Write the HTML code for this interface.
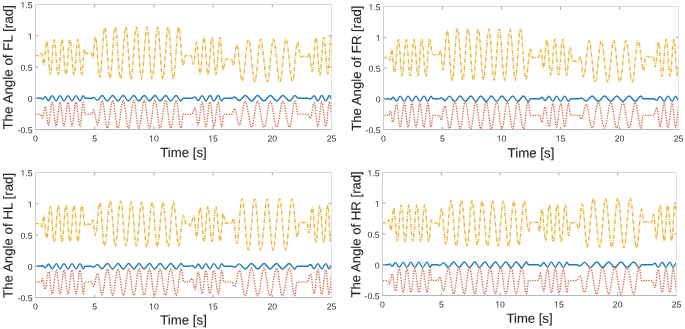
<!DOCTYPE html>
<html><head><meta charset="utf-8"><style>
html,body{margin:0;padding:0;background:#fff;}
body{width:685px;height:329px;overflow:hidden;}
svg{display:block;font-family:"Liberation Sans",sans-serif;filter:blur(0.35px);}
</style></head><body>
<svg width="685" height="329" viewBox="0 0 685 329">
<rect width="685" height="329" fill="#fff"/>
<clipPath id="cFL"><rect x="35.5" y="1.5" width="296.0" height="131.0"/></clipPath>
<g clip-path="url(#cFL)" fill="none"><path d="M34.50 98.25C34.50 98.25 34.50 98.25 34.50 98.25C35.41 98.25 36.09 98.25 37.00 98.25C37.73 98.25 38.27 98.25 39.00 98.25C39.66 98.25 40.14 98.25 40.80 98.25C41.43 98.25 41.90 99.04 42.52 99.04C43.54 99.04 44.29 96.59 45.30 96.59C46.42 96.59 47.26 100.69 48.38 100.69C49.78 100.69 50.82 95.62 52.23 95.62C53.65 95.62 54.72 100.88 56.15 100.88C57.56 100.88 58.61 95.62 60.02 95.62C61.48 95.62 62.57 100.88 64.03 100.88C65.45 100.88 66.50 95.62 67.93 95.62C69.38 95.62 70.47 100.88 71.93 100.88C73.35 100.88 74.40 95.62 75.83 95.62C77.39 95.62 78.56 100.88 80.12 100.88C81.23 100.88 82.05 95.62 83.15 95.62C83.88 95.62 84.43 98.25 85.16 98.25C85.89 98.25 86.44 98.25 87.17 98.25C87.91 98.25 88.45 98.25 89.19 98.25C89.55 98.25 89.83 98.25 90.19 98.25C90.67 98.25 91.02 98.25 91.50 98.25C92.28 98.25 92.87 97.42 93.65 97.42C95.04 97.42 96.08 100.34 97.47 100.34C99.18 100.34 100.45 95.56 102.15 95.56C104.05 95.56 105.47 101.03 107.38 101.03C109.27 101.03 110.68 95.48 112.58 95.48C114.50 95.48 115.93 101.03 117.85 101.03C119.79 101.03 121.24 95.47 123.17 95.47C125.06 95.47 126.47 101.03 128.35 101.03C130.33 101.03 131.82 95.47 133.80 95.47C135.60 95.47 136.95 101.03 138.75 101.03C140.79 101.03 142.31 95.47 144.35 95.47C146.16 95.47 147.51 101.03 149.32 101.03C151.40 101.03 152.95 95.47 155.02 95.47C156.86 95.47 158.22 101.03 160.05 101.03C162.09 101.03 163.61 95.47 165.65 95.47C167.50 95.47 168.88 101.03 170.73 101.03C172.69 101.03 174.16 95.47 176.12 95.47C177.86 95.47 179.16 101.03 180.90 101.03C181.80 101.03 182.47 98.25 183.37 98.25C184.15 98.25 184.73 98.25 185.51 98.25C186.29 98.25 186.88 98.25 187.66 98.25C188.24 98.25 188.68 98.25 189.27 98.25C190.24 98.25 190.97 98.25 191.95 98.25C193.06 98.25 193.89 96.87 195.00 96.87C196.09 96.87 196.91 100.58 198.00 100.58C199.54 100.58 200.69 95.62 202.22 95.62C203.54 95.62 204.51 100.93 205.83 100.93C207.37 100.93 208.53 95.57 210.07 95.57C211.48 95.57 212.52 100.93 213.93 100.93C215.49 100.93 216.66 95.57 218.22 95.57C219.42 95.57 220.31 100.93 221.50 100.93C222.40 100.93 223.07 98.25 223.96 98.25C224.68 98.25 225.22 98.25 225.94 98.25C226.65 98.25 227.19 98.25 227.91 98.25C228.62 98.25 229.16 98.25 229.88 98.25C230.56 98.25 231.07 98.25 231.75 98.25C232.75 98.25 233.50 97.04 234.50 97.04C236.24 97.04 237.54 100.51 239.27 100.51C241.45 100.51 243.07 95.55 245.25 95.55C247.62 95.55 249.38 100.98 251.75 100.98C253.84 100.98 255.39 95.52 257.48 95.52C259.88 95.52 261.67 100.98 264.08 100.98C266.37 100.98 268.08 95.52 270.38 95.52C272.67 95.52 274.38 100.98 276.68 100.98C278.92 100.98 280.60 95.52 282.85 95.52C285.26 95.52 287.06 100.98 289.47 100.98C291.51 100.98 293.02 95.55 295.05 95.55C296.19 95.55 297.04 98.25 298.17 98.25C298.99 98.25 299.59 98.25 300.40 98.25C301.22 98.25 301.82 98.25 302.63 98.25C303.45 98.25 304.05 98.25 304.87 98.25C305.39 98.25 305.79 98.25 306.32 98.25C306.97 98.25 307.45 98.25 308.10 98.25C308.91 98.25 309.51 99.06 310.32 99.06C311.72 99.06 312.76 95.82 314.15 95.82C315.52 95.82 316.53 100.89 317.90 100.89C319.28 100.89 320.32 95.57 321.70 95.57C323.24 95.57 324.39 100.89 325.93 100.89C327.19 100.89 328.13 95.57 329.40 95.57C330.75 95.57 331.75 100.93 333.10 100.93" stroke="#1F78BA" stroke-width="1.4"/><path d="M34.50 114.19C34.50 114.19 34.50 114.19 34.50 114.19C35.41 114.19 36.09 114.19 37.00 114.19C37.73 114.19 38.27 114.19 39.00 114.19C39.66 114.19 40.14 114.19 40.80 114.19C41.43 114.19 41.90 117.73 42.52 117.73C43.54 117.73 44.29 106.75 45.30 106.75C46.42 106.75 47.26 125.13 48.38 125.13C49.78 125.13 50.82 102.37 52.23 102.37C53.65 102.37 54.72 126.00 56.15 126.00C57.56 126.00 58.61 102.37 60.02 102.37C61.48 102.37 62.57 126.00 64.03 126.00C65.45 126.00 66.50 102.37 67.93 102.37C69.38 102.37 70.47 126.00 71.93 126.00C73.35 126.00 74.40 102.37 75.83 102.37C77.39 102.37 78.56 126.00 80.12 126.00C81.23 126.00 82.05 102.37 83.15 102.37C83.88 102.37 84.43 114.19 85.16 114.19C85.89 114.19 86.44 114.19 87.17 114.19C87.91 114.19 88.45 114.19 89.19 114.19C89.55 114.19 89.83 114.19 90.19 114.19C90.67 114.19 91.02 114.19 91.50 114.19C92.28 114.19 92.87 110.04 93.65 110.04C95.04 110.04 96.08 124.61 97.47 124.61C99.18 124.61 100.45 100.79 102.15 100.79C104.05 100.79 105.47 128.02 107.38 128.02C109.27 128.02 110.68 100.40 112.58 100.40C114.50 100.40 115.93 128.02 117.85 128.02C119.79 128.02 121.24 100.35 123.17 100.35C125.06 100.35 126.47 128.02 128.35 128.02C130.33 128.02 131.82 100.35 133.80 100.35C135.60 100.35 136.95 128.02 138.75 128.02C140.79 128.02 142.31 100.35 144.35 100.35C146.16 100.35 147.51 128.02 149.32 128.02C151.40 128.02 152.95 100.35 155.02 100.35C156.86 100.35 158.22 128.02 160.05 128.02C162.09 128.02 163.61 100.35 165.65 100.35C167.50 100.35 168.88 128.02 170.73 128.02C172.69 128.02 174.16 100.35 176.12 100.35C177.86 100.35 179.16 128.02 180.90 128.02C181.80 128.02 182.47 114.19 183.37 114.19C184.15 114.19 184.73 114.19 185.51 114.19C186.29 114.19 186.88 114.19 187.66 114.19C188.24 114.19 188.68 114.19 189.27 114.19C190.24 114.19 190.97 114.19 191.95 114.19C193.06 114.19 193.89 107.83 195.00 107.83C196.09 107.83 196.91 124.89 198.00 124.89C199.54 124.89 200.69 102.12 202.22 102.12C203.54 102.12 204.51 126.48 205.83 126.48C207.37 126.48 208.53 101.90 210.07 101.90C211.48 101.90 212.52 126.48 213.93 126.48C215.49 126.48 216.66 101.90 218.22 101.90C219.42 101.90 220.31 126.48 221.50 126.48C222.40 126.48 223.07 114.19 223.96 114.19C224.68 114.19 225.22 114.19 225.94 114.19C226.65 114.19 227.19 114.19 227.91 114.19C228.62 114.19 229.16 114.19 229.88 114.19C230.56 114.19 231.07 114.19 231.75 114.19C232.75 114.19 233.50 108.42 234.50 108.42C236.24 108.42 237.54 124.94 239.27 124.94C241.45 124.94 243.07 101.37 245.25 101.37C247.62 101.37 249.38 127.16 251.75 127.16C253.84 127.16 255.39 101.21 257.48 101.21C259.88 101.21 261.67 127.16 264.08 127.16C266.37 127.16 268.08 101.21 270.38 101.21C272.67 101.21 274.38 127.16 276.68 127.16C278.92 127.16 280.60 101.21 282.85 101.21C285.26 101.21 287.06 127.16 289.47 127.16C291.51 127.16 293.02 101.37 295.05 101.37C296.19 101.37 297.04 114.19 298.17 114.19C298.99 114.19 299.59 114.19 300.40 114.19C301.22 114.19 301.82 114.19 302.63 114.19C303.45 114.19 304.05 114.19 304.87 114.19C305.39 114.19 305.79 114.19 306.32 114.19C306.97 114.19 307.45 114.19 308.10 114.19C308.91 114.19 309.51 117.94 310.32 117.94C311.72 117.94 312.76 102.98 314.15 102.98C315.52 102.98 316.53 126.34 317.90 126.34C319.28 126.34 320.32 101.84 321.70 101.84C323.24 101.84 324.39 126.34 325.93 126.34C327.19 126.34 328.13 101.84 329.40 101.84C330.75 101.84 331.75 126.54 333.10 126.54" stroke="#D2704F" stroke-width="1.55" stroke-dasharray="0.01 2.55" stroke-linecap="round"/><path d="M34.50 55.75C34.86 55.75 35.14 55.75 35.50 55.75C36.41 55.75 37.09 55.44 38.00 55.44C38.73 55.44 39.27 56.06 40.00 56.06C40.66 56.06 41.14 53.16 41.80 53.16C42.53 53.16 43.07 64.32 43.80 64.32C44.93 64.32 45.77 41.35 46.90 41.35C48.10 41.35 49.00 74.82 50.20 74.82C51.66 74.82 52.74 39.38 54.20 39.38C55.62 39.38 56.68 74.82 58.10 74.82C59.52 74.82 60.58 39.38 62.00 39.38C63.46 39.38 64.54 74.82 66.00 74.82C67.42 74.82 68.48 39.38 69.90 39.38C71.36 39.38 72.44 74.82 73.90 74.82C75.32 74.82 76.38 39.38 77.80 39.38C79.26 39.38 80.34 74.82 81.80 74.82C82.78 74.82 83.52 49.23 84.50 49.23C85.23 49.23 85.77 53.88 86.50 53.88C87.23 53.88 87.77 52.62 88.50 52.62C89.23 52.62 89.77 53.56 90.50 53.56C90.86 53.56 91.14 53.25 91.50 53.25C91.97 53.25 92.33 57.80 92.80 57.80C93.75 57.80 94.45 36.80 95.40 36.80C97.00 36.80 98.20 77.48 99.80 77.48C101.58 77.48 102.92 27.61 104.70 27.61C106.63 27.61 108.07 78.47 110.00 78.47C111.89 78.47 113.31 26.95 115.20 26.95C117.13 26.95 118.57 78.80 120.50 78.80C122.43 78.80 123.87 26.95 125.80 26.95C127.69 26.95 129.11 78.80 131.00 78.80C132.97 78.80 134.43 26.95 136.40 26.95C138.22 26.95 139.58 78.80 141.40 78.80C143.44 78.80 144.96 26.95 147.00 26.95C148.82 26.95 150.18 78.80 152.00 78.80C154.08 78.80 155.62 26.95 157.70 26.95C159.52 26.95 160.88 78.80 162.70 78.80C164.74 78.80 166.26 26.95 168.30 26.95C170.12 26.95 171.48 78.80 173.30 78.80C175.23 78.80 176.67 26.95 178.60 26.95C180.28 26.95 181.52 65.34 183.20 65.34C184.04 65.34 184.66 55.12 185.50 55.12C186.23 55.12 186.77 56.06 187.50 56.06C188.23 56.06 188.77 55.44 189.50 55.44C190.05 55.44 190.45 55.75 191.00 55.75C191.91 55.75 192.59 64.19 193.50 64.19C194.63 64.19 195.47 41.88 196.60 41.88C197.80 41.88 198.70 74.03 199.90 74.03C201.47 74.03 202.63 37.28 204.20 37.28C205.51 37.28 206.49 74.69 207.80 74.69C209.37 74.69 210.53 37.28 212.10 37.28C213.48 37.28 214.52 74.69 215.90 74.69C217.39 74.69 218.51 37.28 220.00 37.28C221.09 37.28 221.91 70.09 223.00 70.09C223.91 70.09 224.59 59.50 225.50 59.50C226.23 59.50 226.77 58.88 227.50 58.88C228.23 58.88 228.77 59.81 229.50 59.81C230.23 59.81 230.77 59.19 231.50 59.19C232.19 59.19 232.71 65.48 233.40 65.48C234.60 65.48 235.50 44.48 236.70 44.48C238.70 44.48 240.20 81.23 242.20 81.23C244.46 81.23 246.14 39.23 248.40 39.23C250.73 39.23 252.47 81.88 254.80 81.88C256.91 81.88 258.49 39.23 260.60 39.23C263.04 39.23 264.86 81.88 267.30 81.88C269.56 81.88 271.24 39.23 273.50 39.23C275.79 39.23 277.51 81.88 279.80 81.88C282.06 81.88 283.74 39.23 286.00 39.23C288.33 39.23 290.07 81.23 292.40 81.23C294.33 81.23 295.77 41.85 297.70 41.85C298.72 41.85 299.48 57.00 300.50 57.00C301.23 57.00 301.77 56.06 302.50 56.06C303.23 56.06 303.77 57.00 304.50 57.00C305.23 57.00 305.77 56.38 306.50 56.38C306.97 56.38 307.33 56.69 307.80 56.69C308.38 56.69 308.82 53.08 309.40 53.08C310.35 53.08 311.05 71.45 312.00 71.45C313.49 71.45 314.61 37.33 316.10 37.33C317.45 37.33 318.45 75.39 319.80 75.39C321.22 75.39 322.28 37.33 323.70 37.33C325.19 37.33 326.31 74.08 327.80 74.08C329.04 74.08 329.96 36.02 331.20 36.02C332.58 36.02 333.62 74.08 335.00 74.08" stroke="#EBB73A" stroke-width="1.4" stroke-dasharray="4.2 1.2 0.8 1.2"/></g>
<g stroke-width="1" fill="none"><path d="M35.50 4.00V130.00" stroke="#cfcfcf"/><path d="M35.50 4.50H331.50" stroke="#d8d8d8"/><path d="M331.50 4.00V130.00" stroke="#e2e2e2"/><path d="M35.00 129.50H332.00" stroke="#b8b8b8"/><path d="M94.70 4.5v3M94.70 129.5v-3M153.90 4.5v3M153.90 129.5v-3M213.10 4.5v3M213.10 129.5v-3M272.30 4.5v3M272.30 129.5v-3M35.5 35.75h3M331.5 35.75h-3M35.5 67.00h3M331.5 67.00h-3M35.5 98.25h3M331.5 98.25h-3" stroke="#a8a8a8"/></g>
<g font-size="8.7" fill="#2e2e2e" stroke="#2e2e2e" stroke-width="0.0"><text transform="translate(35.50 141.40) rotate(0.05)" text-anchor="middle">0</text><text transform="translate(94.70 141.40) rotate(0.05)" text-anchor="middle">5</text><text transform="translate(153.90 141.40) rotate(0.05)" text-anchor="middle">10</text><text transform="translate(213.10 141.40) rotate(0.05)" text-anchor="middle">15</text><text transform="translate(272.30 141.40) rotate(0.05)" text-anchor="middle">20</text><text transform="translate(331.50 141.40) rotate(0.05)" text-anchor="middle">25</text><text transform="translate(32.60 8.20) rotate(0.05)" text-anchor="end">1.5</text><text transform="translate(32.60 39.45) rotate(0.05)" text-anchor="end">1</text><text transform="translate(32.60 70.70) rotate(0.05)" text-anchor="end">0.5</text><text transform="translate(32.60 101.95) rotate(0.05)" text-anchor="end">0</text><text transform="translate(32.60 133.20) rotate(0.05)" text-anchor="end">-0.5</text></g><g fill="#fff"><rect x="148.56" y="140.15" width="2.66" height="2.00"/><rect x="152.05" y="140.15" width="1.73" height="2.00"/><rect x="207.76" y="140.15" width="2.66" height="2.00"/><rect x="211.25" y="140.15" width="1.73" height="2.00"/><rect x="20.01" y="6.95" width="2.66" height="2.00"/><rect x="23.49" y="6.95" width="1.73" height="2.00"/><rect x="27.26" y="38.20" width="2.66" height="2.00"/><rect x="30.75" y="38.20" width="1.73" height="2.00"/></g>
<text transform="translate(183.50 157.10) rotate(0.05)" font-size="13.2" fill="#262626" stroke="#262626" stroke-width="0.12" text-anchor="middle">Time [s]</text>
<text transform="translate(12.60 67.35) rotate(-89.95)" font-size="13.38" fill="#262626" stroke="#262626" stroke-width="0.12" text-anchor="middle">The Angle of FL [rad]</text>
<clipPath id="cFR"><rect x="383.5" y="3.5" width="295.0" height="129.0"/></clipPath>
<g clip-path="url(#cFR)" fill="none"><path d="M382.50 98.75C382.50 98.75 382.50 98.75 382.50 98.75C383.41 98.75 384.09 98.75 385.00 98.75C385.91 98.75 386.59 98.75 387.50 98.75C387.97 98.75 388.33 98.75 388.80 98.75C389.47 98.75 389.98 99.64 390.65 99.64C391.41 99.64 391.97 97.21 392.72 97.21C394.14 97.21 395.19 101.08 396.60 101.08C397.85 101.08 398.78 96.15 400.02 96.15C401.62 96.15 402.81 101.35 404.40 101.35C405.75 101.35 406.75 96.15 408.10 96.15C409.52 96.15 410.58 101.35 412.00 101.35C413.48 101.35 414.59 96.15 416.07 96.15C417.40 96.15 418.40 101.35 419.73 101.35C421.26 101.35 422.41 96.15 423.95 96.15C425.35 96.15 426.40 101.35 427.80 101.35C429.00 101.35 429.90 96.15 431.10 96.15C431.78 96.15 432.30 98.75 432.98 98.75C433.74 98.75 434.31 98.75 435.07 98.75C435.83 98.75 436.40 98.75 437.16 98.75C437.92 98.75 438.49 98.75 439.25 98.75C440.01 98.75 440.57 97.79 441.32 97.79C442.64 97.79 443.61 100.65 444.92 100.65C446.60 100.65 447.85 96.11 449.53 96.11C451.46 96.11 452.89 101.48 454.82 101.48C456.78 101.48 458.24 96.02 460.20 96.02C462.04 96.02 463.41 101.48 465.25 101.48C467.27 101.48 468.78 96.02 470.80 96.02C472.62 96.02 473.98 101.48 475.80 101.48C477.59 101.48 478.93 96.02 480.72 96.02C482.77 96.02 484.30 101.48 486.35 101.48C488.20 101.48 489.58 96.02 491.43 96.02C493.33 96.02 494.75 101.48 496.65 101.48C498.57 101.48 500.00 96.02 501.93 96.02C503.89 96.02 505.36 101.48 507.33 101.48C509.29 101.48 510.76 96.02 512.72 96.02C514.51 96.02 515.84 101.48 517.62 101.48C519.77 101.48 521.38 96.02 523.52 96.02C525.19 96.02 526.43 101.48 528.10 101.48C529.00 101.48 529.68 98.75 530.58 98.75C531.37 98.75 531.96 98.75 532.74 98.75C533.53 98.75 534.11 98.75 534.90 98.75C535.69 98.75 536.27 98.75 537.06 98.75C538.00 98.75 538.71 98.75 539.65 98.75C540.47 98.75 541.08 97.19 541.90 97.19C543.04 97.19 543.89 100.61 545.02 100.61C546.45 100.61 547.50 96.22 548.92 96.22C550.37 96.22 551.45 101.34 552.90 101.34C554.22 101.34 555.20 96.16 556.52 96.16C558.04 96.16 559.16 101.34 560.68 101.34C562.16 101.34 563.27 96.16 564.75 96.16C566.06 96.16 567.04 101.34 568.35 101.34C569.25 101.34 569.92 98.75 570.82 98.75C571.57 98.75 572.13 98.75 572.88 98.75C573.63 98.75 574.19 98.75 574.93 98.75C575.68 98.75 576.24 98.75 576.99 98.75C577.74 98.75 578.30 98.75 579.05 98.75C579.84 98.75 580.43 97.95 581.22 97.95C583.06 97.95 584.44 101.07 586.28 101.07C588.38 101.07 589.95 96.07 592.05 96.07C594.32 96.07 596.01 101.43 598.27 101.43C600.54 101.43 602.23 96.07 604.50 96.07C606.78 96.07 608.47 101.43 610.75 101.43C612.94 101.43 614.56 96.07 616.75 96.07C618.99 96.07 620.66 101.43 622.90 101.43C625.18 101.43 626.87 96.07 629.15 96.07C631.41 96.07 633.09 101.43 635.35 101.43C637.37 101.43 638.88 96.07 640.90 96.07C641.65 96.07 642.22 98.75 642.97 98.75C643.76 98.75 644.36 98.75 645.15 98.75C645.94 98.75 646.54 98.75 647.33 98.75C648.12 98.75 648.72 98.75 649.51 98.75C650.22 98.75 650.76 98.75 651.47 98.75C652.26 98.75 652.86 98.75 653.65 98.75C654.84 98.75 655.73 100.37 656.92 100.37C658.08 100.37 658.94 96.33 660.10 96.33C661.59 96.33 662.71 101.39 664.20 101.39C665.60 101.39 666.65 96.11 668.05 96.11C669.54 96.11 670.66 101.39 672.15 101.39C673.42 101.39 674.38 96.11 675.65 96.11C676.94 96.11 677.91 101.39 679.20 101.39" stroke="#1F78BA" stroke-width="1.4"/><path d="M382.50 115.23C382.50 115.23 382.50 115.23 382.50 115.23C383.41 115.23 384.09 115.23 385.00 115.23C385.91 115.23 386.59 115.23 387.50 115.23C387.97 115.23 388.33 115.23 388.80 115.23C389.47 115.23 389.98 111.21 390.65 111.21C391.41 111.21 391.97 122.20 392.72 122.20C394.14 122.20 395.19 104.70 396.60 104.70C397.85 104.70 398.78 126.98 400.02 126.98C401.62 126.98 402.81 103.48 404.40 103.48C405.75 103.48 406.75 126.98 408.10 126.98C409.52 126.98 410.58 103.48 412.00 103.48C413.48 103.48 414.59 126.98 416.07 126.98C417.40 126.98 418.40 103.48 419.73 103.48C421.26 103.48 422.41 126.98 423.95 126.98C425.35 126.98 426.40 103.48 427.80 103.48C429.00 103.48 429.90 126.98 431.10 126.98C431.78 126.98 432.30 115.23 432.98 115.23C433.74 115.23 434.31 115.23 435.07 115.23C435.83 115.23 436.40 115.23 437.16 115.23C437.92 115.23 438.49 115.23 439.25 115.23C440.01 115.23 440.57 119.99 441.32 119.99C442.64 119.99 443.61 105.79 444.92 105.79C446.60 105.79 447.85 128.37 449.53 128.37C451.46 128.37 452.89 101.64 454.82 101.64C456.78 101.64 458.24 128.82 460.20 128.82C462.04 128.82 463.41 101.64 465.25 101.64C467.27 101.64 468.78 128.82 470.80 128.82C472.62 128.82 473.98 101.64 475.80 101.64C477.59 101.64 478.93 128.82 480.72 128.82C482.77 128.82 484.30 101.64 486.35 101.64C488.20 101.64 489.58 128.82 491.43 128.82C493.33 128.82 494.75 101.64 496.65 101.64C498.57 101.64 500.00 128.82 501.93 128.82C503.89 128.82 505.36 101.64 507.33 101.64C509.29 101.64 510.76 128.82 512.72 128.82C514.51 128.82 515.84 101.64 517.62 101.64C519.77 101.64 521.38 128.82 523.52 128.82C525.19 128.82 526.43 101.64 528.10 101.64C529.00 101.64 529.68 115.23 530.58 115.23C531.37 115.23 531.96 115.23 532.74 115.23C533.53 115.23 534.11 115.23 534.90 115.23C535.69 115.23 536.27 115.23 537.06 115.23C538.00 115.23 538.71 115.23 539.65 115.23C540.47 115.23 541.08 122.25 541.90 122.25C543.04 122.25 543.89 106.88 545.02 106.88C546.45 106.88 547.50 126.63 548.92 126.63C550.37 126.63 551.45 103.57 552.90 103.57C554.22 103.57 555.20 126.89 556.52 126.89C558.04 126.89 559.16 103.57 560.68 103.57C562.16 103.57 563.27 126.89 564.75 126.89C566.06 126.89 567.04 103.57 568.35 103.57C569.25 103.57 569.92 115.23 570.82 115.23C571.57 115.23 572.13 115.23 572.88 115.23C573.63 115.23 574.19 115.23 574.93 115.23C575.68 115.23 576.24 115.23 576.99 115.23C577.74 115.23 578.30 115.23 579.05 115.23C579.84 115.23 580.43 119.05 581.22 119.05C583.06 119.05 584.44 104.25 586.28 104.25C588.38 104.25 589.95 127.95 592.05 127.95C594.32 127.95 596.01 102.51 598.27 102.51C600.54 102.51 602.23 127.95 604.50 127.95C606.78 127.95 608.47 102.51 610.75 102.51C612.94 102.51 614.56 127.95 616.75 127.95C618.99 127.95 620.66 102.51 622.90 102.51C625.18 102.51 626.87 127.95 629.15 127.95C631.41 127.95 633.09 102.51 635.35 102.51C637.37 102.51 638.88 127.95 640.90 127.95C641.65 127.95 642.22 115.23 642.97 115.23C643.76 115.23 644.36 115.23 645.15 115.23C645.94 115.23 646.54 115.23 647.33 115.23C648.12 115.23 648.72 115.23 649.51 115.23C650.22 115.23 650.76 115.23 651.47 115.23C652.26 115.23 652.86 115.23 653.65 115.23C654.84 115.23 655.73 107.75 656.92 107.75C658.08 107.75 658.94 126.38 660.10 126.38C661.59 126.38 662.71 103.08 664.20 103.08C665.60 103.08 666.65 127.38 668.05 127.38C669.54 127.38 670.66 103.08 672.15 103.08C673.42 103.08 674.38 127.38 675.65 127.38C676.94 127.38 677.91 103.08 679.20 103.08" stroke="#D2704F" stroke-width="1.55" stroke-dasharray="0.01 2.55" stroke-linecap="round"/><path d="M382.50 57.54C382.86 57.54 383.14 57.54 383.50 57.54C384.41 57.54 385.09 57.24 386.00 57.24C386.91 57.24 387.59 57.85 388.50 57.85C388.97 57.85 389.33 60.50 389.80 60.50C390.53 60.50 391.07 49.20 391.80 49.20C392.75 49.20 393.45 72.45 394.40 72.45C395.89 72.45 397.01 39.52 398.50 39.52C399.77 39.52 400.73 75.68 402.00 75.68C403.60 75.68 404.80 39.52 406.40 39.52C407.71 39.52 408.69 75.68 410.00 75.68C411.46 75.68 412.54 39.52 414.00 39.52C415.46 39.52 416.54 75.68 418.00 75.68C419.35 75.68 420.35 39.52 421.70 39.52C423.23 39.52 424.37 76.33 425.90 76.33C427.21 76.33 428.19 39.52 429.50 39.52C430.67 39.52 431.53 54.37 432.70 54.37C433.36 54.37 433.84 55.09 434.50 55.09C435.23 55.09 435.77 54.47 436.50 54.47C437.23 54.47 437.77 55.39 438.50 55.39C439.23 55.39 439.77 50.49 440.50 50.49C441.41 50.49 442.09 69.86 443.00 69.86C444.53 69.86 445.67 30.47 447.20 30.47C448.98 30.47 450.32 80.19 452.10 80.19C454.07 80.19 455.53 28.53 457.50 28.53C459.43 28.53 460.87 80.19 462.80 80.19C464.66 80.19 466.04 28.53 467.90 28.53C469.90 28.53 471.40 80.19 473.40 80.19C475.18 80.19 476.52 29.18 478.30 29.18C480.16 29.18 481.54 79.55 483.40 79.55C485.44 79.55 486.96 29.18 489.00 29.18C490.82 29.18 492.18 80.19 494.00 80.19C495.93 80.19 497.37 29.18 499.30 29.18C501.23 29.18 502.67 80.19 504.60 80.19C506.57 80.19 508.03 29.18 510.00 29.18C511.93 29.18 513.37 80.19 515.30 80.19C517.12 80.19 518.48 29.18 520.30 29.18C522.38 29.18 523.92 79.55 526.00 79.55C527.53 79.55 528.67 49.20 530.20 49.20C531.04 49.20 531.66 57.85 532.50 57.85C533.23 57.85 533.77 57.24 534.50 57.24C535.23 57.24 535.77 57.85 536.50 57.85C537.23 57.85 537.77 57.54 538.50 57.54C539.37 57.54 540.03 49.70 540.90 49.70C541.81 49.70 542.49 68.11 543.40 68.11C544.67 68.11 545.63 40.02 546.90 40.02C548.36 40.02 549.44 75.21 550.90 75.21C552.32 75.21 553.38 39.05 554.80 39.05C556.15 39.05 557.15 75.21 558.50 75.21C560.03 75.21 561.17 39.05 562.70 39.05C564.12 39.05 565.18 75.21 566.60 75.21C567.87 75.21 568.83 47.12 570.10 47.12C570.97 47.12 571.63 61.23 572.50 61.23C573.23 61.23 573.77 60.93 574.50 60.93C575.23 60.93 575.77 61.54 576.50 61.54C577.23 61.54 577.77 61.23 578.50 61.23C579.23 61.23 579.77 56.18 580.50 56.18C581.56 56.18 582.34 76.84 583.40 76.84C585.51 76.84 587.09 40.68 589.20 40.68C591.35 40.68 592.95 82.01 595.10 82.01C597.39 82.01 599.11 40.68 601.40 40.68C603.66 40.68 605.34 82.01 607.60 82.01C609.86 82.01 611.54 40.68 613.80 40.68C615.99 40.68 617.61 82.01 619.80 82.01C622.06 82.01 623.74 40.68 626.00 40.68C628.26 40.68 629.94 82.01 632.20 82.01C634.39 82.01 636.01 40.68 638.20 40.68C640.17 40.68 641.63 70.71 643.60 70.71C644.29 70.71 644.81 56.93 645.50 56.93C646.23 56.93 646.77 56.32 647.50 56.32C648.23 56.32 648.77 57.24 649.50 57.24C650.23 57.24 650.77 56.62 651.50 56.62C652.16 56.62 652.64 56.93 653.30 56.93C654.03 56.93 654.57 66.62 655.30 66.62C656.50 66.62 657.40 42.08 658.60 42.08C659.84 42.08 660.76 76.30 662.00 76.30C663.53 76.30 664.67 39.17 666.20 39.17C667.58 39.17 668.62 76.30 670.00 76.30C671.46 76.30 672.54 39.17 674.00 39.17C675.24 39.17 676.16 76.30 677.40 76.30C678.71 76.30 679.69 39.49 681.00 39.49" stroke="#EBB73A" stroke-width="1.4" stroke-dasharray="4.2 1.2 0.8 1.2"/></g>
<g stroke-width="1" fill="none"><path d="M383.50 6.00V130.00" stroke="#cfcfcf"/><path d="M383.50 6.50H678.50" stroke="#d8d8d8"/><path d="M678.50 6.00V130.00" stroke="#e2e2e2"/><path d="M383.00 129.50H679.00" stroke="#b8b8b8"/><path d="M442.50 6.5v3M442.50 129.5v-3M501.50 6.5v3M501.50 129.5v-3M560.50 6.5v3M560.50 129.5v-3M619.50 6.5v3M619.50 129.5v-3M383.5 37.25h3M678.5 37.25h-3M383.5 68.00h3M678.5 68.00h-3M383.5 98.75h3M678.5 98.75h-3" stroke="#a8a8a8"/></g>
<g font-size="8.7" fill="#2e2e2e" stroke="#2e2e2e" stroke-width="0.0"><text transform="translate(383.50 141.40) rotate(0.05)" text-anchor="middle">0</text><text transform="translate(442.50 141.40) rotate(0.05)" text-anchor="middle">5</text><text transform="translate(501.50 141.40) rotate(0.05)" text-anchor="middle">10</text><text transform="translate(560.50 141.40) rotate(0.05)" text-anchor="middle">15</text><text transform="translate(619.50 141.40) rotate(0.05)" text-anchor="middle">20</text><text transform="translate(678.50 141.40) rotate(0.05)" text-anchor="middle">25</text><text transform="translate(380.60 10.20) rotate(0.05)" text-anchor="end">1.5</text><text transform="translate(380.60 40.95) rotate(0.05)" text-anchor="end">1</text><text transform="translate(380.60 71.70) rotate(0.05)" text-anchor="end">0.5</text><text transform="translate(380.60 102.45) rotate(0.05)" text-anchor="end">0</text><text transform="translate(380.60 133.20) rotate(0.05)" text-anchor="end">-0.5</text></g><g fill="#fff"><rect x="496.16" y="140.15" width="2.66" height="2.00"/><rect x="499.65" y="140.15" width="1.73" height="2.00"/><rect x="555.16" y="140.15" width="2.66" height="2.00"/><rect x="558.65" y="140.15" width="1.73" height="2.00"/><rect x="368.01" y="8.95" width="2.66" height="2.00"/><rect x="371.49" y="8.95" width="1.73" height="2.00"/><rect x="375.26" y="39.70" width="2.66" height="2.00"/><rect x="378.75" y="39.70" width="1.73" height="2.00"/></g>
<text transform="translate(531.00 157.60) rotate(0.05)" font-size="13.3" fill="#262626" stroke="#262626" stroke-width="0.12" text-anchor="middle">Time [s]</text>
<text transform="translate(361.00 68.20) rotate(-89.95)" font-size="13.2" fill="#262626" stroke="#262626" stroke-width="0.12" text-anchor="middle">The Angle of FR [rad]</text>
<clipPath id="cHL"><rect x="35.5" y="169.5" width="296.0" height="131.0"/></clipPath>
<g clip-path="url(#cHL)" fill="none"><path d="M34.50 266.25C34.55 266.25 34.60 266.25 34.65 266.25C35.56 266.25 36.24 266.25 37.15 266.25C38.06 266.25 38.74 266.25 39.65 266.25C40.20 266.25 40.60 266.25 41.15 266.25C41.65 266.25 42.02 265.46 42.53 265.46C43.44 265.46 44.11 267.86 45.03 267.86C46.30 267.86 47.25 263.94 48.52 263.94C49.86 263.94 50.86 268.89 52.20 268.89C53.74 268.89 54.89 263.61 56.42 263.61C57.81 263.61 58.84 268.89 60.23 268.89C61.56 268.89 62.56 263.61 63.90 263.61C65.42 263.61 66.55 268.89 68.07 268.89C69.50 268.89 70.57 263.61 72.00 263.61C73.51 263.61 74.64 268.89 76.15 268.89C77.56 268.89 78.61 263.61 80.02 263.61C81.29 263.61 82.23 268.89 83.50 268.89C84.00 268.89 84.38 266.25 84.88 266.25C85.65 266.25 86.23 266.25 87.00 266.25C87.77 266.25 88.35 266.25 89.12 266.25C89.97 266.25 90.60 266.25 91.45 266.25C92.16 266.25 92.69 267.15 93.40 267.15C94.93 267.15 96.07 264.47 97.60 264.47C99.13 264.47 100.27 268.92 101.80 268.92C103.90 268.92 105.47 263.51 107.58 263.51C109.45 263.51 110.85 268.99 112.72 268.99C114.61 268.99 116.02 263.51 117.90 263.51C119.91 263.51 121.41 268.99 123.42 268.99C125.36 268.99 126.79 263.51 128.73 263.51C130.57 263.51 131.95 268.98 133.80 268.98C135.74 268.98 137.19 263.51 139.12 263.51C140.93 263.51 142.27 268.98 144.07 268.98C146.07 268.98 147.56 263.51 149.55 263.51C151.40 263.51 152.78 268.98 154.62 268.98C156.66 268.98 158.17 263.51 160.20 263.51C162.11 263.51 163.54 268.98 165.45 268.98C167.41 268.98 168.87 263.51 170.82 263.51C172.82 263.51 174.31 268.98 176.30 268.98C178.07 268.98 179.38 263.51 181.15 263.51C182.13 263.51 182.86 266.25 183.84 266.25C184.62 266.25 185.20 266.25 185.99 266.25C186.46 266.25 186.81 266.25 187.28 266.25C187.67 266.25 187.96 266.25 188.35 266.25C189.79 266.25 190.86 265.47 192.30 265.47C193.29 265.47 194.03 267.92 195.03 267.92C196.23 267.92 197.12 263.99 198.32 263.99C199.74 263.99 200.79 268.84 202.20 268.84C203.53 268.84 204.52 263.66 205.85 263.66C207.33 263.66 208.42 268.84 209.90 268.84C211.28 268.84 212.32 263.66 213.70 263.66C215.44 263.66 216.74 268.84 218.48 268.84C219.65 268.84 220.53 263.66 221.70 263.66C222.55 263.66 223.19 266.25 224.04 266.25C224.75 266.25 225.28 266.25 225.99 266.25C226.70 266.25 227.23 266.25 227.94 266.25C228.66 266.25 229.19 266.25 229.90 266.25C230.57 266.25 231.07 266.25 231.75 266.25C232.76 266.25 233.51 267.17 234.52 267.17C236.22 267.17 237.48 263.88 239.17 263.88C241.40 263.88 243.05 269.03 245.28 269.03C247.54 269.03 249.23 263.47 251.50 263.47C253.74 263.47 255.41 269.03 257.65 269.03C260.02 269.03 261.78 263.47 264.15 263.47C266.24 263.47 267.79 269.03 269.88 269.03C272.32 269.03 274.13 263.47 276.57 263.47C278.69 263.47 280.26 269.03 282.38 269.03C284.88 269.03 286.75 263.47 289.25 263.47C291.25 263.47 292.75 269.03 294.75 269.03C295.61 269.03 296.26 266.25 297.12 266.25C297.90 266.25 298.49 266.25 299.27 266.25C300.06 266.25 300.64 266.25 301.43 266.25C302.21 266.25 302.80 266.25 303.58 266.25C304.29 266.25 304.81 266.25 305.52 266.25C306.19 266.25 306.68 266.25 307.35 266.25C308.52 266.25 309.38 264.53 310.55 264.53C311.85 264.53 312.82 268.76 314.12 268.76C315.49 268.76 316.51 263.58 317.88 263.58C319.28 263.58 320.32 268.92 321.73 268.92C323.26 268.92 324.41 263.58 325.95 263.58C327.06 263.58 327.89 268.92 329.00 268.92C330.31 268.92 331.29 263.58 332.60 263.58" stroke="#1F78BA" stroke-width="1.4"/><path d="M34.50 282.00C34.55 282.00 34.60 282.00 34.65 282.00C35.56 282.00 36.24 282.00 37.15 282.00C38.06 282.00 38.74 282.00 39.65 282.00C40.20 282.00 40.60 282.00 41.15 282.00C41.65 282.00 42.02 278.44 42.53 278.44C43.44 278.44 44.11 289.23 45.03 289.23C46.30 289.23 47.25 271.61 48.52 271.61C49.86 271.61 50.86 293.86 52.20 293.86C53.74 293.86 54.89 270.14 56.42 270.14C57.81 270.14 58.84 293.86 60.23 293.86C61.56 293.86 62.56 270.14 63.90 270.14C65.42 270.14 66.55 293.86 68.07 293.86C69.50 293.86 70.57 270.14 72.00 270.14C73.51 270.14 74.64 293.86 76.15 293.86C77.56 293.86 78.61 270.14 80.02 270.14C81.29 270.14 82.23 293.86 83.50 293.86C84.00 293.86 84.38 282.00 84.88 282.00C85.65 282.00 86.23 282.00 87.00 282.00C87.77 282.00 88.35 282.00 89.12 282.00C89.97 282.00 90.60 282.00 91.45 282.00C92.16 282.00 92.69 286.34 93.40 286.34C94.93 286.34 96.07 273.46 97.60 273.46C99.13 273.46 100.27 294.84 101.80 294.84C103.90 294.84 105.47 268.82 107.58 268.82C109.45 268.82 110.85 295.18 112.72 295.18C114.61 295.18 116.02 268.82 117.90 268.82C119.91 268.82 121.41 295.18 123.42 295.18C125.36 295.18 126.79 268.82 128.73 268.82C130.57 268.82 131.95 295.11 133.80 295.11C135.74 295.11 137.19 268.82 139.12 268.82C140.93 268.82 142.27 295.11 144.07 295.11C146.07 295.11 147.56 268.82 149.55 268.82C151.40 268.82 152.78 295.11 154.62 295.11C156.66 295.11 158.17 268.82 160.20 268.82C162.11 268.82 163.54 295.11 165.45 295.11C167.41 295.11 168.87 268.82 170.82 268.82C172.82 268.82 174.31 295.11 176.30 295.11C178.07 295.11 179.38 268.82 181.15 268.82C182.13 268.82 182.86 282.00 183.84 282.00C184.62 282.00 185.20 282.00 185.99 282.00C186.46 282.00 186.81 282.00 187.28 282.00C187.67 282.00 187.96 282.00 188.35 282.00C189.79 282.00 190.86 278.57 192.30 278.57C193.29 278.57 194.03 289.37 195.03 289.37C196.23 289.37 197.12 272.05 198.32 272.05C199.74 272.05 200.79 293.44 202.20 293.44C203.53 293.44 204.52 270.56 205.85 270.56C207.33 270.56 208.42 293.44 209.90 293.44C211.28 293.44 212.32 270.56 213.70 270.56C215.44 270.56 216.74 293.44 218.48 293.44C219.65 293.44 220.53 270.56 221.70 270.56C222.55 270.56 223.19 282.00 224.04 282.00C224.75 282.00 225.28 282.00 225.99 282.00C226.70 282.00 227.23 282.00 227.94 282.00C228.66 282.00 229.19 282.00 229.90 282.00C230.57 282.00 231.07 282.00 231.75 282.00C232.76 282.00 233.51 286.55 234.52 286.55C236.22 286.55 237.48 270.23 239.17 270.23C241.40 270.23 243.05 295.79 245.28 295.79C247.54 295.79 249.23 268.21 251.50 268.21C253.74 268.21 255.41 295.79 257.65 295.79C260.02 295.79 261.78 268.21 264.15 268.21C266.24 268.21 267.79 295.79 269.88 295.79C272.32 295.79 274.13 268.21 276.57 268.21C278.69 268.21 280.26 295.79 282.38 295.79C284.88 295.79 286.75 268.21 289.25 268.21C291.25 268.21 292.75 295.79 294.75 295.79C295.61 295.79 296.26 282.00 297.12 282.00C297.90 282.00 298.49 282.00 299.27 282.00C300.06 282.00 300.64 282.00 301.43 282.00C302.21 282.00 302.80 282.00 303.58 282.00C304.29 282.00 304.81 282.00 305.52 282.00C306.19 282.00 306.68 282.00 307.35 282.00C308.52 282.00 309.38 274.10 310.55 274.10C311.85 274.10 312.82 293.51 314.12 293.51C315.49 293.51 316.51 269.74 317.88 269.74C319.28 269.74 320.32 294.26 321.73 294.26C323.26 294.26 324.41 269.74 325.95 269.74C327.06 269.74 327.89 294.26 329.00 294.26C330.31 294.26 331.29 269.74 332.60 269.74" stroke="#D2704F" stroke-width="1.55" stroke-dasharray="0.01 2.55" stroke-linecap="round"/><path d="M34.50 223.75C34.86 223.75 35.14 223.75 35.50 223.75C36.41 223.75 37.09 223.44 38.00 223.44C38.91 223.44 39.59 224.06 40.50 224.06C41.05 224.06 41.45 227.01 42.00 227.01C42.62 227.01 43.08 215.85 43.70 215.85C44.79 215.85 45.61 238.16 46.70 238.16C48.05 238.16 49.05 206.34 50.40 206.34C51.78 206.34 52.82 241.77 54.20 241.77C55.73 241.77 56.87 205.35 58.40 205.35C59.75 205.35 60.75 241.77 62.10 241.77C63.48 241.77 64.52 205.35 65.90 205.35C67.43 205.35 68.57 241.77 70.10 241.77C71.52 241.77 72.58 205.35 74.00 205.35C75.49 205.35 76.61 241.77 78.10 241.77C79.45 241.77 80.45 205.35 81.80 205.35C83.04 205.35 83.96 226.02 85.20 226.02C85.67 226.02 86.03 224.38 86.50 224.38C87.23 224.38 87.77 224.06 88.50 224.06C89.23 224.06 89.77 224.69 90.50 224.69C91.30 224.69 91.90 219.78 92.70 219.78C93.61 219.78 94.29 235.53 95.20 235.53C96.91 235.53 98.19 202.72 99.90 202.72C101.54 202.72 102.76 246.03 104.40 246.03C106.55 246.03 108.15 201.08 110.30 201.08C112.12 201.08 113.48 246.03 115.30 246.03C117.23 246.03 118.67 201.08 120.60 201.08C122.60 201.08 124.10 246.03 126.10 246.03C127.99 246.03 129.41 202.06 131.30 202.06C133.16 202.06 134.54 246.03 136.40 246.03C138.33 246.03 139.77 202.06 141.70 202.06C143.52 202.06 144.88 247.02 146.70 247.02C148.70 247.02 150.20 202.06 152.20 202.06C154.06 202.06 155.44 246.69 157.30 246.69C159.34 246.69 160.86 202.06 162.90 202.06C164.79 202.06 166.21 246.69 168.10 246.69C170.07 246.69 171.53 202.06 173.50 202.06C175.43 202.06 176.87 246.03 178.80 246.03C180.51 246.03 181.79 215.19 183.50 215.19C184.41 215.19 185.09 224.06 186.00 224.06C186.73 224.06 187.27 223.44 188.00 223.44C188.44 223.44 188.76 224.06 189.20 224.06C189.56 224.06 189.84 226.05 190.20 226.05C191.55 226.05 192.55 215.88 193.90 215.88C194.88 215.88 195.62 237.53 196.60 237.53C197.91 237.53 198.89 207.34 200.20 207.34C201.62 207.34 202.68 241.80 204.10 241.80C205.45 241.80 206.45 206.36 207.80 206.36C209.29 206.36 210.41 241.47 211.90 241.47C213.32 241.47 214.38 206.36 215.80 206.36C217.44 206.36 218.66 241.47 220.30 241.47C221.32 241.47 222.08 213.25 223.10 213.25C223.97 213.25 224.63 223.44 225.50 223.44C226.23 223.44 226.77 222.81 227.50 222.81C228.23 222.81 228.77 223.75 229.50 223.75C230.23 223.75 230.77 223.12 231.50 223.12C232.19 223.12 232.71 217.89 233.40 217.89C234.60 217.89 235.50 243.48 236.70 243.48C238.67 243.48 240.13 198.86 242.10 198.86C244.39 198.86 246.11 250.05 248.40 250.05C250.66 250.05 252.34 198.86 254.60 198.86C256.86 198.86 258.54 250.05 260.80 250.05C263.13 250.05 264.87 198.86 267.20 198.86C269.31 198.86 270.89 250.05 273.00 250.05C275.44 250.05 277.26 198.86 279.70 198.86C281.81 198.86 283.39 250.05 285.50 250.05C287.94 250.05 289.76 198.86 292.20 198.86C294.06 198.86 295.44 237.58 297.30 237.58C298.10 237.58 298.70 222.50 299.50 222.50C300.23 222.50 300.77 221.88 301.50 221.88C302.23 221.88 302.77 222.81 303.50 222.81C304.23 222.81 304.77 222.19 305.50 222.19C306.16 222.19 306.64 222.50 307.30 222.50C307.92 222.50 308.38 233.00 309.00 233.00C310.20 233.00 311.10 207.41 312.30 207.41C313.65 207.41 314.65 242.19 316.00 242.19C317.38 242.19 318.42 205.44 319.80 205.44C321.22 205.44 322.28 242.19 323.70 242.19C325.16 242.19 326.24 205.11 327.70 205.11C328.79 205.11 329.61 242.19 330.70 242.19C332.08 242.19 333.12 205.44 334.50 205.44" stroke="#EBB73A" stroke-width="1.4" stroke-dasharray="4.2 1.2 0.8 1.2"/></g>
<g stroke-width="1" fill="none"><path d="M35.50 172.00V298.00" stroke="#cfcfcf"/><path d="M35.50 172.50H331.50" stroke="#d8d8d8"/><path d="M331.50 172.00V298.00" stroke="#e2e2e2"/><path d="M35.00 297.50H332.00" stroke="#b8b8b8"/><path d="M94.70 172.5v3M94.70 297.5v-3M153.90 172.5v3M153.90 297.5v-3M213.10 172.5v3M213.10 297.5v-3M272.30 172.5v3M272.30 297.5v-3M35.5 203.75h3M331.5 203.75h-3M35.5 235.00h3M331.5 235.00h-3M35.5 266.25h3M331.5 266.25h-3" stroke="#a8a8a8"/></g>
<g font-size="8.7" fill="#2e2e2e" stroke="#2e2e2e" stroke-width="0.0"><text transform="translate(35.50 309.40) rotate(0.05)" text-anchor="middle">0</text><text transform="translate(94.70 309.40) rotate(0.05)" text-anchor="middle">5</text><text transform="translate(153.90 309.40) rotate(0.05)" text-anchor="middle">10</text><text transform="translate(213.10 309.40) rotate(0.05)" text-anchor="middle">15</text><text transform="translate(272.30 309.40) rotate(0.05)" text-anchor="middle">20</text><text transform="translate(331.50 309.40) rotate(0.05)" text-anchor="middle">25</text><text transform="translate(32.60 176.20) rotate(0.05)" text-anchor="end">1.5</text><text transform="translate(32.60 207.45) rotate(0.05)" text-anchor="end">1</text><text transform="translate(32.60 238.70) rotate(0.05)" text-anchor="end">0.5</text><text transform="translate(32.60 269.95) rotate(0.05)" text-anchor="end">0</text><text transform="translate(32.60 301.20) rotate(0.05)" text-anchor="end">-0.5</text></g><g fill="#fff"><rect x="148.56" y="308.15" width="2.66" height="2.00"/><rect x="152.05" y="308.15" width="1.73" height="2.00"/><rect x="207.76" y="308.15" width="2.66" height="2.00"/><rect x="211.25" y="308.15" width="1.73" height="2.00"/><rect x="20.01" y="174.95" width="2.66" height="2.00"/><rect x="23.49" y="174.95" width="1.73" height="2.00"/><rect x="27.26" y="206.20" width="2.66" height="2.00"/><rect x="30.75" y="206.20" width="1.73" height="2.00"/></g>
<text transform="translate(183.50 324.40) rotate(0.05)" font-size="13.25" fill="#262626" stroke="#262626" stroke-width="0.12" text-anchor="middle">Time [s]</text>
<text transform="translate(12.60 235.40) rotate(-89.95)" font-size="13.3" fill="#262626" stroke="#262626" stroke-width="0.12" text-anchor="middle">The Angle of HL [rad]</text>
<clipPath id="cHR"><rect x="382.5" y="169.5" width="294.0" height="129.0"/></clipPath>
<g clip-path="url(#cHR)" fill="none"><path d="M381.50 264.75C381.45 264.75 381.40 264.75 381.35 264.75C382.26 264.75 382.94 264.75 383.85 264.75C384.69 264.75 385.31 264.75 386.15 264.75C386.66 264.75 387.04 264.75 387.55 264.75C388.35 264.75 388.95 263.93 389.75 263.93C390.61 263.93 391.24 266.26 392.10 266.26C393.35 266.26 394.28 262.42 395.52 262.42C396.89 262.42 397.91 267.36 399.27 267.36C400.70 267.36 401.77 262.14 403.20 262.14C404.53 262.14 405.52 267.36 406.85 267.36C408.33 267.36 409.42 262.14 410.90 262.14C412.33 262.14 413.40 267.36 414.82 267.36C416.29 267.36 417.38 262.14 418.85 262.14C420.22 262.14 421.23 267.36 422.60 267.36C424.25 267.36 425.48 262.14 427.12 262.14C428.19 262.14 428.98 267.36 430.05 267.36C430.67 267.36 431.13 264.75 431.75 264.75C432.48 264.75 433.02 264.75 433.75 264.75C434.48 264.75 435.02 264.75 435.75 264.75C436.44 264.75 436.96 264.75 437.65 264.75C438.38 264.75 438.92 265.56 439.65 265.56C441.06 265.56 442.11 262.66 443.52 262.66C445.25 262.66 446.55 267.33 448.27 267.33C450.28 267.33 451.77 262.04 453.77 262.04C455.59 262.04 456.94 267.46 458.75 267.46C460.79 267.46 462.31 262.04 464.35 262.04C466.20 262.04 467.58 267.46 469.43 267.46C471.38 267.46 472.84 262.04 474.80 262.04C476.49 262.04 477.76 267.44 479.45 267.44C481.42 267.44 482.88 262.04 484.85 262.04C486.71 262.04 488.09 267.46 489.95 267.46C491.96 267.46 493.46 262.04 495.48 262.04C497.31 262.04 498.69 267.46 500.53 267.46C502.42 267.46 503.83 262.04 505.73 262.04C507.72 262.04 509.21 267.46 511.20 267.46C513.01 267.46 514.36 262.04 516.17 262.04C518.22 262.04 519.75 267.44 521.80 267.44C523.53 267.44 524.82 262.04 526.55 262.04C527.23 262.04 527.73 264.75 528.41 264.75C529.21 264.75 529.80 264.75 530.60 264.75C531.40 264.75 531.99 264.75 532.79 264.75C533.58 264.75 534.18 264.75 534.98 264.75C535.49 264.75 535.88 264.75 536.40 264.75C537.04 264.75 537.51 264.75 538.15 264.75C538.95 264.75 539.55 266.28 540.35 266.28C541.58 266.28 542.50 262.48 543.73 262.48C545.09 262.48 546.11 267.33 547.48 267.33C548.88 267.33 549.92 262.12 551.32 262.12C552.79 262.12 553.88 267.38 555.35 267.38C556.72 267.38 557.73 262.12 559.10 262.12C560.67 262.12 561.83 267.38 563.40 267.38C564.71 267.38 565.69 262.12 567.00 262.12C567.65 262.12 568.13 264.75 568.78 264.75C569.50 264.75 570.04 264.75 570.76 264.75C571.48 264.75 572.02 264.75 572.74 264.75C573.46 264.75 574.00 264.75 574.72 264.75C575.48 264.75 576.04 264.75 576.80 264.75C577.98 264.75 578.87 265.77 580.05 265.77C581.63 265.77 582.82 262.39 584.40 262.39C586.53 262.39 588.12 267.44 590.25 267.44C592.62 267.44 594.38 262.02 596.75 262.02C598.88 262.02 600.47 267.44 602.60 267.44C604.84 267.44 606.51 262.02 608.75 262.02C610.94 262.02 612.56 267.47 614.75 267.47C616.99 267.47 618.66 262.02 620.90 262.02C623.14 262.02 624.81 267.48 627.05 267.48C629.49 267.48 631.31 262.02 633.75 262.02C635.70 262.02 637.15 267.48 639.10 267.48C640.05 267.48 640.75 264.75 641.70 264.75C642.49 264.75 643.08 264.75 643.87 264.75C644.66 264.75 645.24 264.75 646.03 264.75C646.82 264.75 647.41 264.75 648.20 264.75C648.91 264.75 649.44 264.75 650.15 264.75C650.86 264.75 651.39 264.75 652.10 264.75C653.16 264.75 653.94 263.27 655.00 263.27C656.13 263.27 656.97 267.20 658.10 267.20C659.62 267.20 660.75 262.20 662.28 262.20C663.57 262.20 664.53 267.38 665.83 267.38C667.30 267.38 668.40 262.14 669.88 262.14C671.08 262.14 671.97 267.38 673.17 267.38C674.57 267.38 675.61 262.12 677.00 262.12" stroke="#1F78BA" stroke-width="1.4"/><path d="M381.50 280.62C381.45 280.62 381.40 280.62 381.35 280.62C382.26 280.62 382.94 280.62 383.85 280.62C384.69 280.62 385.31 280.62 386.15 280.62C386.66 280.62 387.04 280.62 387.55 280.62C388.35 280.62 388.95 284.35 389.75 284.35C390.61 284.35 391.24 273.79 392.10 273.79C393.35 273.79 394.28 291.20 395.52 291.20C396.89 291.20 397.91 268.79 399.27 268.79C400.70 268.79 401.77 292.44 403.20 292.44C404.53 292.44 405.52 268.79 406.85 268.79C408.33 268.79 409.42 292.44 410.90 292.44C412.33 292.44 413.40 268.79 414.82 268.79C416.29 268.79 417.38 292.44 418.85 292.44C420.22 292.44 421.23 268.79 422.60 268.79C424.25 268.79 425.48 292.44 427.12 292.44C428.19 292.44 428.98 268.79 430.05 268.79C430.67 268.79 431.13 280.62 431.75 280.62C432.48 280.62 433.02 280.62 433.75 280.62C434.48 280.62 435.02 280.62 435.75 280.62C436.44 280.62 436.96 280.62 437.65 280.62C438.38 280.62 438.92 276.67 439.65 276.67C441.06 276.67 442.11 290.78 443.52 290.78C445.25 290.78 446.55 268.10 448.27 268.10C450.28 268.10 451.77 293.76 453.77 293.76C455.59 293.76 456.94 267.48 458.75 267.48C460.79 267.48 462.31 293.76 464.35 293.76C466.20 293.76 467.58 267.48 469.43 267.48C471.38 267.48 472.84 293.76 474.80 293.76C476.49 293.76 477.76 267.57 479.45 267.57C481.42 267.57 482.88 293.76 484.85 293.76C486.71 293.76 488.09 267.48 489.95 267.48C491.96 267.48 493.46 293.76 495.48 293.76C497.31 293.76 498.69 267.48 500.53 267.48C502.42 267.48 503.83 293.76 505.73 293.76C507.72 293.76 509.21 267.48 511.20 267.48C513.01 267.48 514.36 293.76 516.17 293.76C518.22 293.76 519.75 267.57 521.80 267.57C523.53 267.57 524.82 293.76 526.55 293.76C527.23 293.76 527.73 280.62 528.41 280.62C529.21 280.62 529.80 280.62 530.60 280.62C531.40 280.62 531.99 280.62 532.79 280.62C533.58 280.62 534.18 280.62 534.98 280.62C535.49 280.62 535.88 280.62 536.40 280.62C537.04 280.62 537.51 280.62 538.15 280.62C538.95 280.62 539.55 273.62 540.35 273.62C541.58 273.62 542.50 290.99 543.73 290.99C545.09 290.99 546.11 268.80 547.48 268.80C548.88 268.80 549.92 292.62 551.32 292.62C552.79 292.62 553.88 268.61 555.35 268.61C556.72 268.61 557.73 292.62 559.10 292.62C560.67 292.62 561.83 268.61 563.40 268.61C564.71 268.61 565.69 292.62 567.00 292.62C567.65 292.62 568.13 280.62 568.78 280.62C569.50 280.62 570.04 280.62 570.76 280.62C571.48 280.62 572.02 280.62 572.74 280.62C573.46 280.62 574.00 280.62 574.72 280.62C575.48 280.62 576.04 280.62 576.80 280.62C577.98 280.62 578.87 275.57 580.05 275.57C581.63 275.57 582.82 292.28 584.40 292.28C586.53 292.28 588.12 267.29 590.25 267.29C592.62 267.29 594.38 294.11 596.75 294.11C598.88 294.11 600.47 267.29 602.60 267.29C604.84 267.29 606.51 294.11 608.75 294.11C610.94 294.11 612.56 267.17 614.75 267.17C616.99 267.17 618.66 294.11 620.90 294.11C623.14 294.11 624.81 267.12 627.05 267.12C629.49 267.12 631.31 294.11 633.75 294.11C635.70 294.11 637.15 267.12 639.10 267.12C640.05 267.12 640.75 280.62 641.70 280.62C642.49 280.62 643.08 280.62 643.87 280.62C644.66 280.62 645.24 280.62 646.03 280.62C646.82 280.62 647.41 280.62 648.20 280.62C648.91 280.62 649.44 280.62 650.15 280.62C650.86 280.62 651.39 280.62 652.10 280.62C653.16 280.62 653.94 287.40 655.00 287.40C656.13 287.40 656.97 269.41 658.10 269.41C659.62 269.41 660.75 292.28 662.28 292.28C663.57 292.28 664.53 268.58 665.83 268.58C667.30 268.58 668.40 292.59 669.88 292.59C671.08 292.59 671.97 268.58 673.17 268.58C674.57 268.58 675.61 292.65 677.00 292.65" stroke="#D2704F" stroke-width="1.55" stroke-dasharray="0.01 2.55" stroke-linecap="round"/><path d="M381.50 222.93C381.86 222.93 382.14 222.93 382.50 222.93C383.41 222.93 384.09 222.62 385.00 222.62C385.84 222.62 386.46 223.24 387.30 223.24C387.81 223.24 388.19 219.69 388.70 219.69C389.54 219.69 390.16 230.67 391.00 230.67C391.98 230.67 392.72 208.07 393.70 208.07C395.05 208.07 396.05 241.00 397.40 241.00C398.78 241.00 399.82 204.84 401.20 204.84C402.62 204.84 403.68 241.65 405.10 241.65C406.45 241.65 407.45 204.84 408.80 204.84C410.29 204.84 411.41 241.65 412.90 241.65C414.32 241.65 415.38 204.84 416.80 204.84C418.26 204.84 419.34 241.65 420.80 241.65C422.18 241.65 423.22 204.84 424.60 204.84C426.13 204.84 427.27 241.65 428.80 241.65C429.71 241.65 430.39 220.34 431.30 220.34C431.92 220.34 432.38 222.93 433.00 222.93C433.73 222.93 434.27 222.62 435.00 222.62C435.73 222.62 436.27 223.24 437.00 223.24C437.69 223.24 438.21 226.81 438.90 226.81C439.81 226.81 440.49 208.09 441.40 208.09C443.04 208.09 444.26 244.25 445.90 244.25C447.72 244.25 449.08 200.34 450.90 200.34C452.90 200.34 454.40 246.18 456.40 246.18C458.22 246.18 459.58 200.34 461.40 200.34C463.44 200.34 464.96 246.18 467.00 246.18C468.82 246.18 470.18 200.34 472.00 200.34C473.93 200.34 475.37 245.54 477.30 245.54C479.01 245.54 480.29 200.98 482.00 200.98C484.00 200.98 485.50 246.18 487.50 246.18C489.36 246.18 490.74 200.98 492.60 200.98C494.60 200.98 496.10 246.18 498.10 246.18C499.92 246.18 501.28 200.98 503.10 200.98C505.03 200.98 506.47 246.18 508.40 246.18C510.37 246.18 511.83 200.98 513.80 200.98C515.62 200.98 516.98 245.54 518.80 245.54C520.80 245.54 522.30 200.98 524.30 200.98C525.94 200.98 527.16 231.33 528.80 231.33C529.42 231.33 529.88 222.31 530.50 222.31C531.23 222.31 531.77 222.01 532.50 222.01C533.23 222.01 533.77 222.62 534.50 222.62C535.23 222.62 535.77 222.31 536.50 222.31C536.97 222.31 537.33 222.31 537.80 222.31C538.38 222.31 538.82 231.34 539.40 231.34C540.31 231.34 540.99 209.06 541.90 209.06C543.25 209.06 544.25 241.03 545.60 241.03C546.98 241.03 548.02 204.86 549.40 204.86C550.82 204.86 551.88 241.67 553.30 241.67C554.76 241.67 555.84 204.86 557.30 204.86C558.68 204.86 559.72 241.67 561.10 241.67C562.63 241.67 563.77 204.86 565.30 204.86C566.54 204.86 567.46 235.86 568.70 235.86C569.36 235.86 569.84 222.93 570.50 222.93C571.23 222.93 571.77 222.62 572.50 222.62C573.23 222.62 573.77 223.24 574.50 223.24C575.23 223.24 575.77 222.93 576.50 222.93C577.26 222.93 577.84 228.76 578.60 228.76C579.91 228.76 580.89 203.83 582.20 203.83C584.02 203.83 585.38 247.16 587.20 247.16C589.46 247.16 591.14 198.41 593.40 198.41C595.73 198.41 597.47 247.16 599.80 247.16C601.91 247.16 603.49 198.41 605.60 198.41C607.86 198.41 609.54 247.48 611.80 247.48C613.99 247.48 615.61 198.41 617.80 198.41C620.06 198.41 621.74 248.13 624.00 248.13C626.26 248.13 627.94 198.41 630.20 198.41C632.53 198.41 634.27 248.13 636.60 248.13C638.42 248.13 639.78 209.06 641.60 209.06C642.47 209.06 643.13 222.31 644.00 222.31C644.73 222.31 645.27 221.70 646.00 221.70C646.73 221.70 647.27 222.62 648.00 222.62C648.73 222.62 649.27 222.01 650.00 222.01C650.66 222.01 651.14 222.31 651.80 222.31C652.46 222.31 652.94 214.57 653.60 214.57C654.69 214.57 655.51 238.46 656.60 238.46C657.84 238.46 658.76 205.53 660.00 205.53C661.53 205.53 662.67 241.04 664.20 241.04C665.47 241.04 666.43 204.88 667.70 204.88C669.16 204.88 670.24 241.04 671.70 241.04C672.90 241.04 673.80 203.85 675.00 203.85C676.46 203.85 677.54 241.04 679.00 241.04" stroke="#EBB73A" stroke-width="1.4" stroke-dasharray="4.2 1.2 0.8 1.2"/></g>
<g stroke-width="1" fill="none"><path d="M382.50 172.00V296.00" stroke="#cfcfcf"/><path d="M382.50 172.50H676.50" stroke="#d8d8d8"/><path d="M676.50 172.00V296.00" stroke="#e2e2e2"/><path d="M382.00 295.50H677.00" stroke="#b8b8b8"/><path d="M441.30 172.5v3M441.30 295.5v-3M500.10 172.5v3M500.10 295.5v-3M558.90 172.5v3M558.90 295.5v-3M617.70 172.5v3M617.70 295.5v-3M382.5 203.25h3M676.5 203.25h-3M382.5 234.00h3M676.5 234.00h-3M382.5 264.75h3M676.5 264.75h-3" stroke="#a8a8a8"/></g>
<g font-size="8.7" fill="#2e2e2e" stroke="#2e2e2e" stroke-width="0.0"><text transform="translate(382.50 307.40) rotate(0.05)" text-anchor="middle">0</text><text transform="translate(441.30 307.40) rotate(0.05)" text-anchor="middle">5</text><text transform="translate(500.10 307.40) rotate(0.05)" text-anchor="middle">10</text><text transform="translate(558.90 307.40) rotate(0.05)" text-anchor="middle">15</text><text transform="translate(617.70 307.40) rotate(0.05)" text-anchor="middle">20</text><text transform="translate(676.50 307.40) rotate(0.05)" text-anchor="middle">25</text><text transform="translate(379.60 176.20) rotate(0.05)" text-anchor="end">1.5</text><text transform="translate(379.60 206.95) rotate(0.05)" text-anchor="end">1</text><text transform="translate(379.60 237.70) rotate(0.05)" text-anchor="end">0.5</text><text transform="translate(379.60 268.45) rotate(0.05)" text-anchor="end">0</text><text transform="translate(379.60 299.20) rotate(0.05)" text-anchor="end">-0.5</text></g><g fill="#fff"><rect x="494.76" y="306.15" width="2.66" height="2.00"/><rect x="498.25" y="306.15" width="1.73" height="2.00"/><rect x="553.56" y="306.15" width="2.66" height="2.00"/><rect x="557.05" y="306.15" width="1.73" height="2.00"/><rect x="367.01" y="174.95" width="2.66" height="2.00"/><rect x="370.49" y="174.95" width="1.73" height="2.00"/><rect x="374.26" y="205.70" width="2.66" height="2.00"/><rect x="377.75" y="205.70" width="1.73" height="2.00"/></g>
<text transform="translate(529.50 322.70) rotate(0.05)" font-size="13.1" fill="#262626" stroke="#262626" stroke-width="0.12" text-anchor="middle">Time [s]</text>
<text transform="translate(360.40 234.40) rotate(-89.95)" font-size="13.15" fill="#262626" stroke="#262626" stroke-width="0.12" text-anchor="middle">The Angle of HR [rad]</text>
</svg>
</body></html>
